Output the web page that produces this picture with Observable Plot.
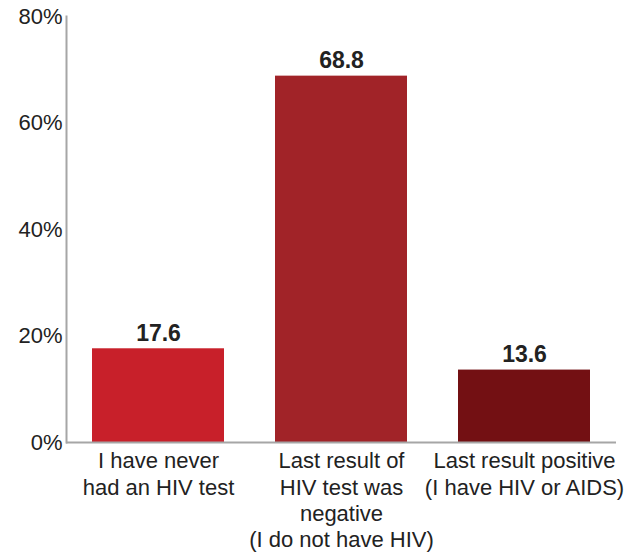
<!DOCTYPE html>
<html>
<head>
<meta charset="utf-8">
<script src="https://cdn.jsdelivr.net/npm/d3@7"></script>
<script src="https://cdn.jsdelivr.net/npm/@observablehq/plot@0.6"></script>
<style>
  html, body { margin: 0; padding: 0; background: #fff; }
  svg { font-family: "Liberation Sans", Arial, sans-serif; }
</style>
</head>
<body>
<div id="chart"></div>
<script>
const categories = [
  "I have never\nhad an HIV test",
  "Last result of\nHIV test was\nnegative\n(I do not have HIV)",
  "Last result positive\n(I have HIV or AIDS)"
];
const values = [17.6, 68.8, 13.6];
const colors = ["#c8202a", "#a12328", "#731013"];
const yTicks = [0, 20, 40, 60, 80];

const data = categories.map((c, i) => ({category: c, value: values[i], color: colors[i]}));

const chart = Plot.plot({
  width: 639,
  height: 556,
  marginLeft: 66,
  marginRight: 23,
  marginTop: 16,
  marginBottom: 114,
  style: {fontFamily: '"Liberation Sans", Arial, sans-serif', background: "#fff"},
  x: {domain: categories, paddingInner: 0.28, paddingOuter: 0.14, label: null},
  y: {domain: [0, 80], label: null},
  marks: [
    Plot.barY(data, {x: "category", y: "value", fill: d => d.color}),
    Plot.text(data, {x: "category", y: "value", text: d => d.value.toFixed(1),
      lineAnchor: "bottom", dy: -8, fontSize: 23, fontWeight: "bold", fill: "#222"}),
    Plot.axisY({ticks: yTicks, tickSize: 0, tickPadding: 4, tickFormat: d => d + "%",
      fontSize: 22, fill: "#222", label: null}),
    Plot.axisX({tickSize: 0, tickPadding: 7, fontSize: 22, lineHeight: 1.2, fill: "#222", label: null}),
    Plot.frame({anchor: "left", stroke: "#a6a6a6", strokeWidth: 2}),
    Plot.ruleY([0], {stroke: "#a6a6a6", strokeWidth: 2})
  ]
});
document.getElementById("chart").append(chart);
</script>
</body>
</html>
